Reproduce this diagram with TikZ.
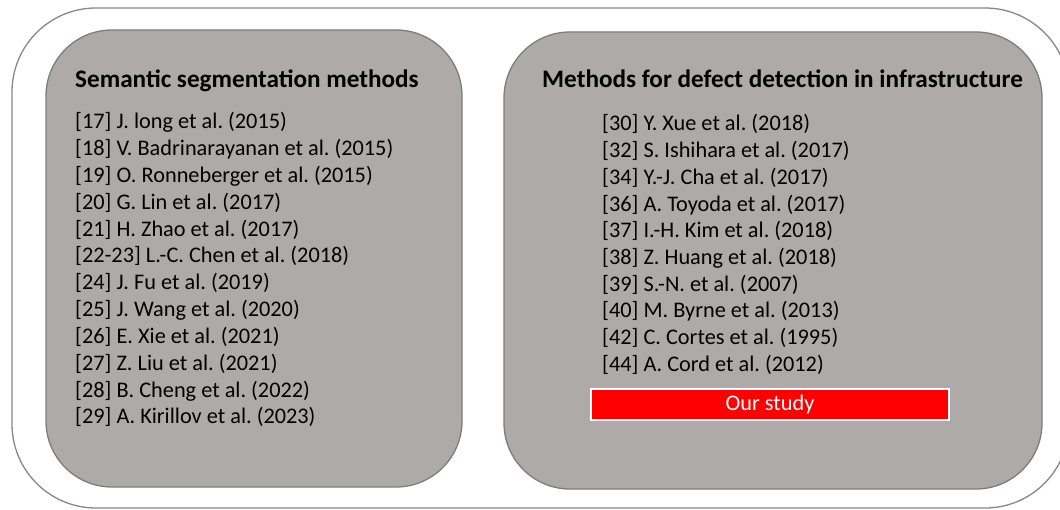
\documentclass[tikz,border=0pt]{standalone}
\usepackage{fontspec}
\setmainfont{Carlito}
\frenchspacing
\definecolor{panelgray}{RGB}{174,170,169}
\definecolor{edgegray}{RGB}{125,125,125}
\definecolor{framegray}{RGB}{135,135,135}
\tikzset{
  frame/.style={draw=framegray, line width=1.3pt, rounded corners=84pt},
  panel/.style={draw=edgegray, fill=panelgray, line width=1.3pt, rounded corners=66pt},
  heading/.style={anchor=base west, font=\fontsize{25.2}{28}\selectfont\bfseries, inner sep=0pt},
  ref/.style={anchor=base west, font=\fontsize{22.3}{26}\selectfont, inner sep=0pt},
  studybox/.style={draw=white, fill=red, line width=1.2pt, text=white,
    font=\fontsize{22.3}{26}\selectfont, minimum width=358pt, minimum height=31pt, inner sep=0pt},
}
\begin{document}
\begin{tikzpicture}[x=1pt,y=-1pt]
\useasboundingbox (0,0) rectangle (1060,510);
% outer frame, running past the right edge
\draw[frame] (12,8) rectangle (1069,508);
% the two panels
\draw[panel] (46,30) rectangle (462,487);
\draw[panel] (504,32) rectangle (1042,489);

% left panel
\node[heading] (lh) at (75,88) {Semantic segmentation methods};
\foreach \t [count=\i from 0] in {
  {[17] J. long et al. (2015)},
  {[18] V. Badrinarayanan et al. (2015)},
  {[19] O. Ronneberger et al. (2015)},
  {[20] G. Lin et al. (2017)},
  {[21] H. Zhao et al. (2017)},
  {[22-23] L.-C. Chen et al. (2018)},
  {[24] J. Fu et al. (2019)},
  {[25] J. Wang et al. (2020)},
  {[26] E. Xie et al. (2021)},
  {[27] Z. Liu et al. (2021)},
  {[28] B. Cheng et al. (2022)},
  {[29] A. Kirillov et al. (2023)}}
  \node[ref] (l\i) at (75,{129+26.8*\i}) {\t};

% right panel
\node[heading] (rh) at (542,88) {Methods for defect detection in infrastructure};
\foreach \t [count=\i from 0] in {
  {[30] Y. Xue et al. (2018)},
  {[32] S. Ishihara et al. (2017)},
  {[34] Y.-J. Cha et al. (2017)},
  {[36] A. Toyoda et al. (2017)},
  {[37] I.-H. Kim et al. (2018)},
  {[38] Z. Huang et al. (2018)},
  {[39] S.-N. et al. (2007)},
  {[40] M. Byrne et al. (2013)},
  {[42] C. Cortes et al. (1995)},
  {[44] A. Cord et al. (2012)}}
  \node[ref] (r\i) at (602,{131+26.7*\i}) {\t};

\node[studybox] (study) at (770,404.5) {Our study};
\end{tikzpicture}
\end{document}
